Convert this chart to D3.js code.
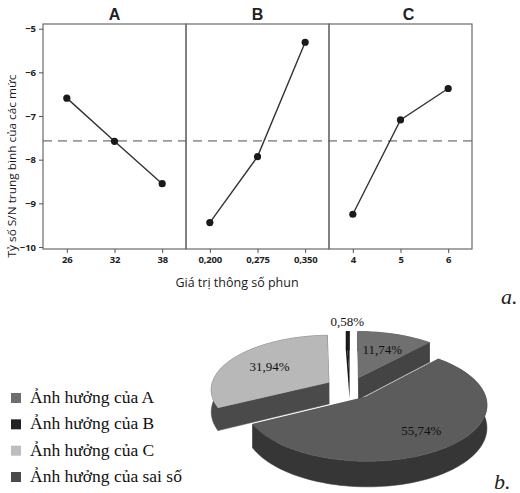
<!DOCTYPE html>
<html>
<head>
<meta charset="utf-8">
<script src="https://cdn.jsdelivr.net/npm/d3@7"></script>
<style>
  html, body { margin: 0; padding: 0; background: #fff; }
  svg { display: block; }
</style>
</head>
<body>
<script>
// ---------- DATA ----------
const factors = ["A", "B", "C"];
const levelsA = ["26", "32", "38"];
const valuesA = [-6.59, -7.58, -8.55];
const levelsB = ["0,200", "0,275", "0,350"];
const valuesB = [-9.44, -7.93, -5.31];
const levelsC = ["4", "5", "6"];
const valuesC = [-9.25, -7.09, -6.37];
const yTicks = [-5, -6, -7, -8, -9, -10];
const meanSN = -7.57;

const pieLabels = ["Ảnh hưởng của A", "Ảnh hưởng của B", "Ảnh hưởng của C", "Ảnh hưởng của sai số"];
const pieValues = [11.74, 55.74, 31.94, 0.58];
const pieTexts = ["11,74%", "55,74%", "31,94%", "0,58%"];

// ---------- STYLES ----------
const legendColors = ["#6e6e6e", "#222222", "#bdbdbd", "#4a4a4a"];
const topColors = ["#707070", "#5c5c5c", "#b8b8b8", "#1c1c1c"];
const sideColors = ["#444444", "#363636", "#4a4a4a", "#111111"];

const W = 520, H = 493;
const svg = d3.select("body").append("svg").attr("width", W).attr("height", H);

// ================= (a) main effects plot =================
const frame = { left: 43, right: 472, top: 24, bottom: 249 };
const panelScale = d3.scaleBand().domain(factors).range([frame.left, frame.right]).paddingInner(0).paddingOuter(0);
const y = d3.scaleLinear().domain([-10.046, -4.892]).range([frame.bottom, frame.top]);

const panels = [
  { f: "A", levels: levelsA, values: valuesA },
  { f: "B", levels: levelsB, values: valuesB },
  { f: "C", levels: levelsC, values: valuesC }
];

const gA = svg.append("g");
const fontSans = "'Open Sans', 'Liberation Sans', Arial, sans-serif";

gA.append("line")
  .attr("x1", frame.left).attr("x2", frame.right)
  .attr("y1", y(meanSN)).attr("y2", y(meanSN))
  .attr("stroke", "#9a9a9a").attr("stroke-width", 1.6)
  .attr("stroke-dasharray", "9,6");

panels.forEach(p => {
  const x0 = panelScale(p.f), bw = panelScale.bandwidth();
  const x = d3.scalePoint().domain(p.levels).range([x0, x0 + bw]).padding(0.5);
  gA.append("rect").attr("x", x0).attr("y", frame.top).attr("width", bw)
    .attr("height", frame.bottom - frame.top)
    .attr("fill", "none").attr("stroke", "#6a6a6a").attr("stroke-width", 1.2);
  const ax = d3.axisBottom(x).tickSize(4).tickPadding(3);
  const axG = gA.append("g").attr("transform", `translate(0,${frame.bottom})`).call(ax);
  axG.select(".domain").remove();
  axG.selectAll("line").attr("stroke", "#555");
  axG.selectAll("text").attr("font-family", fontSans).attr("font-size", 9.5)
    .attr("font-weight", "bold").attr("fill", "#222").attr("letter-spacing", "-0.2");
  gA.append("text").attr("x", x0 + bw / 2 + (p.f === "C" ? 8 : 0)).attr("y", 20)
    .attr("text-anchor", "middle").attr("font-family", "'Liberation Sans', Arial, sans-serif")
    .attr("font-weight", "bold").attr("font-size", 16).attr("fill", "#222").text(p.f);
  const pts = p.levels.map((l, i) => [x(l), y(p.values[i])]);
  gA.append("path").attr("d", d3.line()(pts)).attr("fill", "none")
    .attr("stroke", "#333").attr("stroke-width", 1.4);
  gA.selectAll(null).data(pts).enter().append("circle")
    .attr("cx", d => d[0]).attr("cy", d => d[1]).attr("r", 3.6).attr("fill", "#1a1a1a");
});

const ay = d3.axisLeft(y).tickValues(yTicks).tickSize(4).tickPadding(3).tickFormat(d => d3.format("d")(d));
const ayG = gA.append("g").attr("transform", `translate(${frame.left},0)`).call(ay);
ayG.select(".domain").remove();
ayG.selectAll("line").attr("stroke", "#555");
ayG.selectAll("text").attr("font-family", fontSans).attr("font-size", 9.5)
  .attr("font-weight", "bold").attr("fill", "#222");

gA.append("text").attr("x", 237).attr("y", 287).attr("text-anchor", "middle")
  .attr("font-family", fontSans).attr("font-size", 12.5).attr("fill", "#1a1a1a")
  .text("Giá trị thông số phun");
gA.append("text").attr("transform", "translate(16,166) rotate(-90)").attr("text-anchor", "middle")
  .attr("font-family", fontSans).attr("font-size", 11).attr("fill", "#1a1a1a")
  .attr("textLength", 183).attr("lengthAdjust", "spacingAndGlyphs")
  .text("Tỷ số S/N trung bình của các mức");

svg.append("text").attr("x", 501).attr("y", 304)
  .attr("font-family", "'Liberation Serif', 'Times New Roman', serif").attr("font-style", "italic")
  .attr("font-size", 22).attr("fill", "#222").text("a.");

// ================= (b) 3D pie =================
const P = { cx: 350, cy: 388, R: 118, ry: 54, h: 22, k: 0.12, explode: 0.21 };
const deg = Math.PI / 180;
const arcs = d3.pie().sort(null).value(d => d)(pieValues);

function proj(theta, r, z, off) {
  const u = r * Math.sin(theta) + off[0];
  const v = r * Math.cos(theta) + off[1];
  const s = 1 / (1 + P.k * v);
  return [P.cx + u * P.R * s, P.cy - v * P.ry * s + z * P.h * s];
}

const slices = arcs.map((a, i) => {
  const mid = (a.startAngle + a.endAngle) / 2;
  const off = [P.explode * Math.sin(mid), P.explode * Math.cos(mid)];
  return { a, i, mid, off, depth: off[1] };
}).sort((p, q) => q.depth - p.depth);

const gP = svg.append("g");
const lineGen = d3.line();

slices.forEach(sl => {
  const { a, i, off } = sl;
  const thin = pieValues[i] < 2;
  const sw = thin ? 0 : 0.5;
  const n = Math.max(2, Math.ceil((a.endAngle - a.startAngle) / (2 * deg)));
  const angs = d3.range(n + 1).map(j => a.startAngle + (a.endAngle - a.startAngle) * j / n);
  [a.startAngle, a.endAngle].forEach(t => {
    const quad = [proj(t, 0, 0, off), proj(t, 1, 0, off), proj(t, 1, 1, off), proj(t, 0, 1, off)];
    gP.append("path").attr("d", lineGen(quad) + "Z").attr("fill", sideColors[i])
      .attr("stroke", sideColors[i]).attr("stroke-width", sw);
  });
  const wall = angs.map(t => proj(t, 1, 0, off)).concat(angs.slice().reverse().map(t => proj(t, 1, 1, off)));
  gP.append("path").attr("d", lineGen(wall) + "Z").attr("fill", sideColors[i])
    .attr("stroke", sideColors[i]).attr("stroke-width", sw);
  const top = [proj(0, 0, 0, off)].concat(angs.map(t => proj(t, 1, 0, off)));
  gP.append("path").attr("d", lineGen(top) + "Z").attr("fill", topColors[i])
    .attr("stroke", topColors[i]).attr("stroke-width", sw);
});

arcs.forEach((a, i) => {
  const mid = (a.startAngle + a.endAngle) / 2;
  const off = [P.explode * Math.sin(mid), P.explode * Math.cos(mid)];
  const small = pieValues[i] < 2;
  const r = small ? 1.45 : (pieValues[i] > 50 ? 0.7 : 0.62);
  const pt = proj(mid, r, 0, small ? [0, 0] : off);
  gP.append("text").attr("x", pt[0]).attr("y", pt[1]).attr("dy", "0.35em")
    .attr("text-anchor", "middle")
    .attr("font-family", "'Liberation Serif', 'Times New Roman', serif")
    .attr("font-size", 13).attr("fill", "#111").text(pieTexts[i]);
});

const legY = d3.scalePoint().domain(pieLabels).range([398, 477]);
const leg = svg.append("g");
pieLabels.forEach((l, i) => {
  leg.append("rect").attr("x", 11).attr("y", legY(l) - 5).attr("width", 10).attr("height", 10)
    .attr("fill", legendColors[i]);
  leg.append("text").attr("x", 30).attr("y", legY(l) + 5)
    .attr("font-family", "'Liberation Serif', 'Times New Roman', serif")
    .attr("font-size", 17.5).attr("fill", "#111").text(l);
});

svg.append("text").attr("x", 494).attr("y", 489)
  .attr("font-family", "'Liberation Serif', 'Times New Roman', serif").attr("font-style", "italic")
  .attr("font-size", 22).attr("fill", "#222").text("b.");
</script>
</body>
</html>
